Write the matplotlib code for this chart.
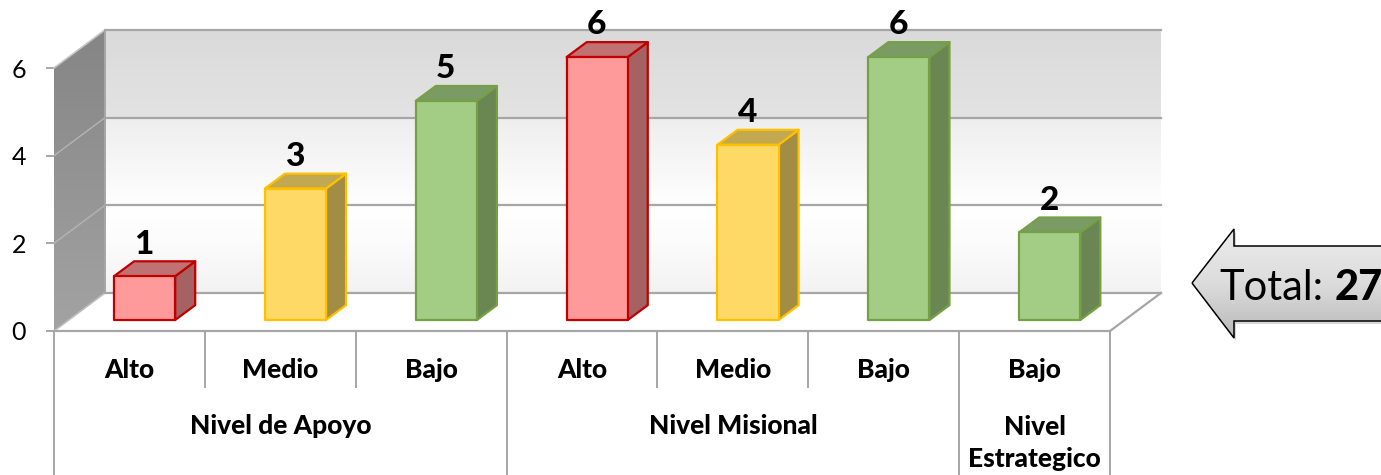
#!/usr/bin/env python3
import matplotlib
matplotlib.use('Agg')

import numpy as np
import matplotlib.pyplot as plt
from matplotlib.colors import LinearSegmentedColormap
from matplotlib.patches import Polygon

plt.rcParams['font.family'] = ['Lato', 'DejaVu Sans']

categories = ['Alto', 'Medio', 'Bajo', 'Alto', 'Medio', 'Bajo', 'Bajo']
values = [1, 3, 5, 6, 4, 6, 2]
levels = ['red', 'yellow', 'green', 'red', 'yellow', 'green', 'green']
groups = ['Nivel de Apoyo', 'Nivel Misional', 'Nivel\nEstrategico']
group_start = [0, 3, 6]
group_end = [3, 6, 7]
y_ticks = [0, 2, 4, 6]

# face, edge, top, side
palette = {
    'red': ('#ff9a9a', '#c00000', '#c07272', '#a66262'),
    'yellow': ('#ffd966', '#ffc000', '#c2a851', '#a38c44'),
    'green': ('#a3cd85', '#76a045', '#7b9b64', '#6a8753'),
}

W, H = 1381, 475
fig = plt.figure(figsize=(W / 100, H / 100), dpi=100, facecolor='white')

# the front plane of the chart: 54..1110 px across, 68..331 px down
ax = fig.add_axes([54 / W, 1 - 331 / H, (1110 - 54) / W, (331 - 68) / H])
ax.set_xlim(0, 7)
ax.set_ylim(0, 6)
ax.patch.set_visible(False)

# oblique depth of the walls and of the bars
wall_dx, wall_dy = 0.338, 0.868
bar_dx, bar_dy = 0.133, 0.34
bar_w = 0.405
bar_off = 0.398
base = 0.25
grey = '#a6a6a6'
heavy = 900

back_cmap = LinearSegmentedColormap.from_list('back', [
    (0.0, '#dadada'), (0.33, '#e3e3e3'), (0.335, '#eeeeee'), (0.62, '#fcfcfc'),
    (0.68, '#ffffff'), (0.8, '#fcfcfc'), (1.0, '#f2f2f2')])
side_cmap = LinearSegmentedColormap.from_list('side', ['#858585', '#a3a3a3'])
grad = np.linspace(0, 1, 256).reshape(-1, 1)

# back wall
ax.imshow(grad, cmap=back_cmap, aspect='auto', zorder=1, clip_on=False,
          extent=(wall_dx, 7 + wall_dx, wall_dy, 6 + wall_dy), vmin=0, vmax=1)

# side wall
side = ax.imshow(grad, cmap=side_cmap, aspect='auto', zorder=1,
                 extent=(0, wall_dx, 0, 6 + wall_dy), vmin=0, vmax=1)
side_poly = Polygon([(0, 0), (wall_dx, wall_dy), (wall_dx, 6 + wall_dy), (0, 6)],
                    transform=ax.transData, fill=False, edgecolor='none', clip_on=False)
ax.add_patch(side_poly)
side.set_clip_path(side_poly)
side.set_clip_box(fig.bbox)
ax.set_xlim(0, 7)
ax.set_ylim(0, 6)

# gridlines on both walls plus the floor
for t in y_ticks:
    ax.plot([wall_dx, 7 + wall_dx], [t + wall_dy, t + wall_dy], color=grey, lw=1.6,
            zorder=2, clip_on=False)
    if 0 < t < 6:
        ax.plot([0, wall_dx], [t, t + wall_dy], color='#b4b4b4', lw=1, zorder=2, clip_on=False)
ax.plot([0, wall_dx], [6, 6 + wall_dy], color='#c4c4c4', lw=1.2, zorder=2, clip_on=False)
ax.plot([0, wall_dx], [0, wall_dy], color='#bdbdbd', lw=1.2, zorder=2, clip_on=False)
ax.plot([wall_dx, wall_dx], [wall_dy, 6 + wall_dy], color=grey, lw=1.4, zorder=2, clip_on=False)
ax.plot([7, 7 + wall_dx], [0, wall_dy], color=grey, lw=1.6, zorder=2, clip_on=False)

# bars, front face with a top and a side
for i, v in enumerate(values):
    face, edge, top_c, side_c = palette[levels[i]]
    x0 = i + bar_off
    x1 = x0 + bar_w
    y0 = base
    y1 = v + base
    front = [(x0, y0), (x1, y0), (x1, y1), (x0, y1)]
    top = [(x0, y1), (x1, y1), (x1 + bar_dx, y1 + bar_dy), (x0 + bar_dx, y1 + bar_dy)]
    right = [(x1, y0), (x1 + bar_dx, y0 + bar_dy), (x1 + bar_dx, y1 + bar_dy), (x1, y1)]
    for pts, c in ((right, side_c), (top, top_c), (front, face)):
        ax.add_patch(Polygon(pts, closed=True, facecolor=c, edgecolor=edge, lw=1.6,
                             joinstyle='round', zorder=3, clip_on=False))
    ax.annotate(str(v), (x0 + bar_w / 2 + bar_dx / 2 - 0.08, y1 + bar_dy), xytext=(1, 2),
                textcoords='offset points', ha='center', va='bottom', fontsize=24,
                fontweight=heavy, color='black', zorder=4, annotation_clip=False)

# axes
ax.set_yticks(y_ticks)
ax.set_yticklabels([str(t) for t in y_ticks], fontsize=18, color='black')
ax.tick_params(axis='y', length=6, width=1.4, color=grey, pad=14)
ax.set_xticks([])
for s in ('top', 'right', 'left'):
    ax.spines[s].set_visible(False)
ax.spines['bottom'].set_color(grey)
ax.spines['bottom'].set_linewidth(1.6)

# two level category axis below the floor
short_y = -1.28
long_y = -3.3
for i in range(8):
    full = i in group_start or i == 7
    ax.plot([i, i], [0, long_y if full else short_y], color=grey, lw=1.4, zorder=2,
            clip_on=False)
for i, c in enumerate(categories):
    ax.text(i + 0.5, -0.9, c, ha='center', va='center', fontsize=19, fontweight=heavy)
for g, a, b in zip(groups, group_start, group_end):
    gy = -2.55 if '\n' in g else -2.17
    ax.text((a + b) / 2, gy, g, ha='center', va='center', fontsize=19, fontweight=heavy,
            linespacing=1.4)

# "Total" callout, in pixels of the figure
over = fig.add_axes([0, 0, 1, 1])
over.set_xlim(0, W)
over.set_ylim(H, 0)
over.axis('off')
arrow = [(1192, 283), (1234, 229), (1234, 246), (1390, 246), (1390, 321),
         (1234, 321), (1234, 338)]
shadow = [(x + 2, y + 3) for x, y in arrow]
over.add_patch(Polygon(shadow, closed=True, facecolor='#bbbbbb', edgecolor='none', alpha=0.6))
arrow_cmap = LinearSegmentedColormap.from_list('arrow', ['#ececec', '#dcdcdc', '#b8b8b8'])
im = over.imshow(grad, cmap=arrow_cmap, aspect='auto', extent=(1190, 1381, 338, 229),
                 origin='upper', zorder=2, vmin=0, vmax=1)
arrow_patch = Polygon(arrow, closed=True, facecolor='none', edgecolor='black', lw=1.1, zorder=3)
over.add_patch(arrow_patch)
im.set_clip_path(arrow_patch)
over.set_xlim(0, W)
over.set_ylim(H, 0)
over.text(1219, 288, 'Total:', fontsize=30, ha='left', va='center', zorder=4)
over.text(1335, 288, '27', fontsize=30, fontweight=heavy, ha='left', va='center', zorder=4)

fig.savefig('out.png', dpi=100, facecolor='white')
plt.close(fig)
